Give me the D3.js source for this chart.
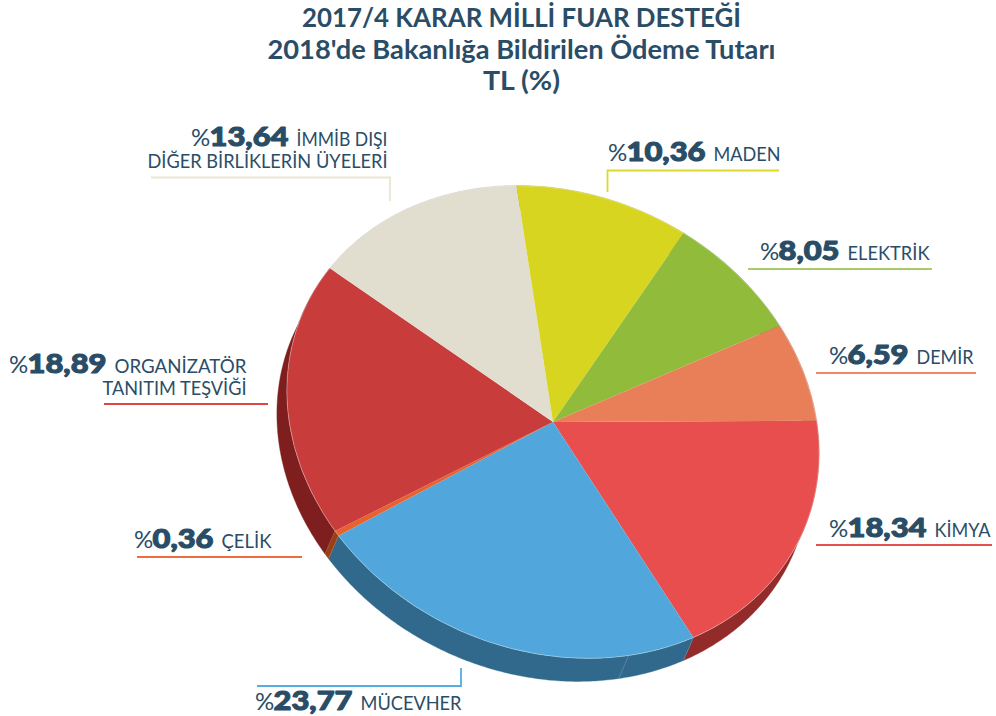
<!DOCTYPE html>
<html><head><meta charset="utf-8">
<script src="https://cdn.jsdelivr.net/npm/d3@7"></script>
<style>html,body{margin:0;padding:0;background:#fff}svg{display:block}text{font-family:Lato,sans-serif;fill:#2a4d67}</style>
</head><body><svg id="c" width="996" height="716"></svg>
<script>
// DATA
const sectors   = ["KİMYA","MÜCEVHER","ÇELİK","ORGANİZATÖR TANITIM TEŞVİĞİ","İMMİB DIŞI DİĞER BİRLİKLERİN ÜYELERİ","MADEN","ELEKTRİK","DEMİR"];
const shares    = [18.34,23.77,0.36,18.89,13.64,10.36,8.05,6.59];
const shareText = ["18,34","23,77","0,36","18,89","13,64","10,36","8,05","6,59"];
const labelLine1= ["KİMYA","MÜCEVHER","ÇELİK","ORGANİZATÖR","İMMİB DIŞI","MADEN","ELEKTRİK","DEMİR"];
const labelLine2= ["","","","TANITIM TEŞVİĞİ","DİĞER BİRLİKLERİN ÜYELERİ","","",""];
const titleLines= ["2017/4 KARAR MİLLİ FUAR DESTEĞİ","2018'de Bakanlığa Bildirilen Ödeme Tutarı","TL (%)"];
// STYLE
const topColors  = ["#e94e4e","#51a7db","#e8622f","#c83d3c","#e1decf","#d8d520","#91bc3b","#e97f58"];
const wallColors = ["#932b2b","#31698c","#9a3e14","#7f1e1e","#a9a69a","#a3a018","#6d8d2c","#af5f42"];
const leadColors = ["#e94e4e","#55aee0","#ef6a3c","#dc4646","#e9e6d3","#dcd92c","#a8cb68","#ee8a66"];
// LAYOUT: text start x / baseline, text widths, leader paths
const titleWidths = [439,508,77];
const titleY  = [27,58.5,90];
const textX   = [829,255,134,9,191,608,760,829];
const textY   = [537,710,548,373,146,161,260,364];
const line2Y  = [0,0,0,395,168,0,0,0];
const label1W = [56,101,50,132,91,67,82,57];
const label2W = [0,0,0,144,240,0,0,0];
const leaders = [
 [[816,545],[992,545]],
 [[257,686],[461,686],[461,668]],
 [[137,557],[302,557]],
 [[104,404],[268,404]],
 [[151,177.5],[390,177.5],[390,201]],
 [[779,170.5],[607.5,170.5],[607.5,192]],
 [[748,269],[932,269]],
 [[816,373],[976,373]]
];
const W=[263.6,36.5,-1.35,236.4], C=[553,422], depth=[-10,23], seamShare=22.6;

const svg=d3.select("#c");
// title
svg.selectAll("text.t").data(titleLines).join("text").attr("class","t")
 .attr("x",(d,i)=>521.5-titleWidths[i]/2).attr("y",(d,i)=>titleY[i])
 .attr("textLength",(d,i)=>titleWidths[i]).attr("lengthAdjust","spacingAndGlyphs")
 .attr("font-size",26).attr("font-weight",700).text(d=>d);

const pie=d3.pie().sort(null).startAngle(Math.PI/2).endAngle(Math.PI*2.5);
const arcs=pie(shares);
const project=(a,off)=>{const c=Math.sin(a),s=-Math.cos(a);
  return [C[0]+W[0]*c+W[1]*s+(off?depth[0]:0), C[1]+W[2]*c+W[3]*s+(off?depth[1]:0)];};
const line=d3.line();
const wallPath=(a0,a1)=>{
  const n=Math.max(2,Math.ceil((a1-a0)/0.01));
  const ang=d3.range(n+1).map(i=>a0+(a1-a0)*i/n);
  return line(ang.map(a=>project(a,false)).concat(ang.slice().reverse().map(a=>project(a,true))))+"Z";
};
// walls
svg.append("g").selectAll("path").data(arcs).join("path")
  .attr("d",d=>wallPath(d.startAngle,d.endAngle))
  .attr("fill",(d,i)=>wallColors[i]).attr("stroke",(d,i)=>wallColors[i]).attr("stroke-width",.4);
const seamA=Math.PI/2+seamShare/100*2*Math.PI;
svg.append("line").attr("x1",project(seamA,false)[0]).attr("y1",project(seamA,false)[1])
  .attr("x2",project(seamA,true)[0]).attr("y2",project(seamA,true)[1])
  .attr("stroke","#5f8ba8").attr("stroke-width",.8);
[arcs[1].startAngle,arcs[2].startAngle,arcs[3].startAngle].forEach(a=>{
  const p=project(a,false),q=project(a,true);
  svg.append("line").attr("x1",p[0]).attr("y1",p[1]).attr("x2",q[0]).attr("y2",q[1])
     .attr("stroke","#ffffff").attr("stroke-opacity",.18).attr("stroke-width",.7);
});
// top face
const face=svg.append("g").attr("transform",`matrix(${W[0]},${W[2]},${W[1]},${W[3]},${C[0]},${C[1]})`);
const arc=d3.arc().innerRadius(0).outerRadius(1);
face.selectAll("path").data(arcs).join("path").attr("d",arc).attr("fill",(d,i)=>topColors[i]);
face.append("circle").attr("r",1).attr("fill","none").attr("stroke","#fff").attr("stroke-opacity",.55)
   .attr("stroke-width",.6).attr("vector-effect","non-scaling-stroke");
// leaders
svg.append("g").selectAll("path").data(leaders).join("path")
  .attr("d",d=>line(d)).attr("fill","none").attr("stroke",(d,i)=>leadColors[i]).attr("stroke-width",1.8);
// labels
const lab=svg.append("g");
shareText.forEach((s,i)=>{
  const x=textX[i],y=textY[i];
  lab.append("text").attr("x",x).attr("y",y).attr("font-size",24).attr("font-weight",400).text("%");
  const nd=s.length-1, w=nd*18+7;
  lab.append("text").attr("x",x+18.5).attr("y",y).attr("font-size",27).attr("font-weight",900)
     .attr("textLength",w).attr("lengthAdjust","spacingAndGlyphs")
     .attr("stroke","#2a4d67").attr("stroke-width",1.1).attr("stroke-linejoin","round").text(s);
  const lx=x+18.5+w+8;
  lab.append("text").attr("x",lx).attr("y",y).attr("font-size",18.5)
     .attr("textLength",label1W[i]).attr("lengthAdjust","spacingAndGlyphs").text(labelLine1[i]);
  if(labelLine2[i]){
    lab.append("text").attr("x",lx+label1W[i]-label2W[i]).attr("y",line2Y[i])
       .attr("textLength",label2W[i]).attr("lengthAdjust","spacingAndGlyphs")
       .attr("font-size",18.5).text(labelLine2[i]);
  }
});
</script></body></html>
